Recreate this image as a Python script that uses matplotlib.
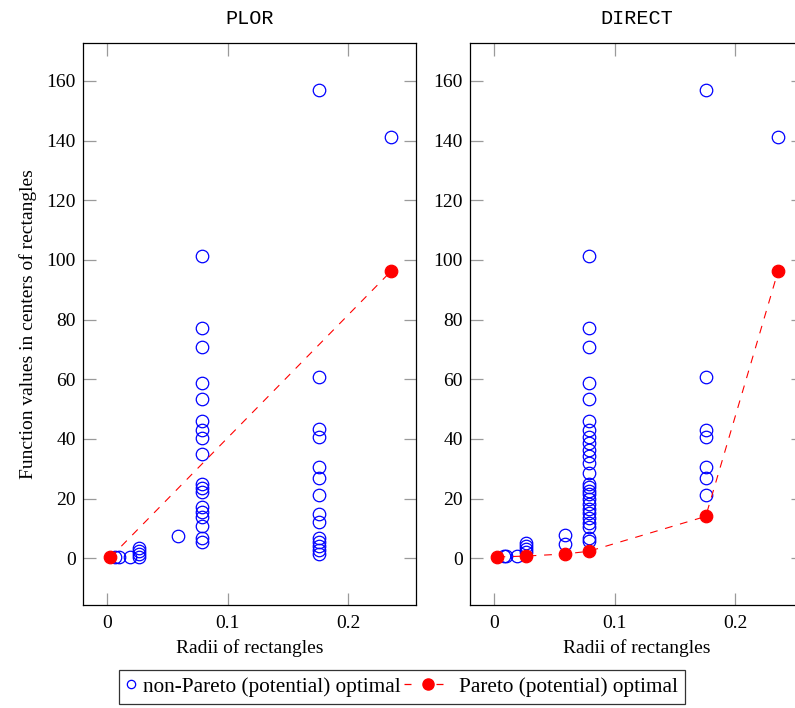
import matplotlib
matplotlib.use("Agg")
import matplotlib.pyplot as plt
from matplotlib.lines import Line2D
from matplotlib.legend_handler import HandlerLine2D

plt.rcParams['font.family'] = ['Liberation Serif', 'DejaVu Serif']

# Rectangle radii (half-diagonals) appearing in the two partitions
R1, R2, R3, R4 = 0.2357, 0.1757, 0.0786, 0.0586
R5, R6, R7, R8, R9 = 0.0262, 0.0195, 0.0098, 0.0067, 0.0029

# PLOR: non-Pareto points
plor_x = ([R8, R7, R6] + [R5] * 4 + [R4] + [R3] * 18 + [R2] * 14 + [R1])
plor_y = ([0.4, 0.5, 0.5]
          + [0.4, 1.3, 2.3, 3.3]
          + [7.4]
          + [101.2, 77.0, 70.9, 58.8, 53.2, 46.0, 42.9, 40.2, 35.0,
             24.8, 23.4, 22.1, 17.1, 15.4, 13.7, 10.7, 6.7, 5.4]
          + [157.0, 60.8, 43.2, 40.7, 30.7, 27.0, 21.1, 14.7, 12.2,
             6.9, 5.5, 4.1, 2.8, 1.3]
          + [141.2])
# PLOR: Pareto points
plor_px = [R9, R1]
plor_py = [0.3, 96.2]

# DIRECT: non-Pareto points
direct_x = ([0.0087, R7, R6] + [R5] * 4 + [R4] * 2 + [R3] * 26 + [R2] * 7 + [R1])
direct_y = ([0.6, 0.6, 0.6]
            + [1.9, 3.0, 4.1, 5.2]
            + [4.9, 7.9]
            + [101.2, 77.0, 70.9, 58.8, 53.2, 46.0, 43.0, 40.7, 38.6, 36.4,
               34.2, 32.0, 28.7, 24.8, 23.7, 22.5, 21.4, 19.7, 18.1, 16.6,
               15.3, 13.6, 11.9, 10.6, 6.9, 5.8]
            + [157.0, 60.8, 43.0, 40.7, 30.7, 27.0, 21.1]
            + [141.2])
# DIRECT: Pareto points
direct_px = [R9, R5, R4, R3, R2, R1]
direct_py = [0.4, 0.7, 1.4, 2.3, 14.0, 96.2]

titles = ["PLOR", "DIRECT"]
xticks = [0, 0.1, 0.2]
xtick_labels = ["0", "0.1", "0.2"]
yticks = [0, 20, 40, 60, 80, 100, 120, 140, 160]
legend_labels = ["non-Pareto (potential) optimal", "Pareto (potential) optimal"]

FS = 14
LEG_FS = 15.3

W, H = 795, 708
fig = plt.figure(figsize=(W / 100, H / 100), dpi=100)

ax_w = 333 / W
ax_h = 562 / H
ax_b = 1 - 605 / H
axes = [fig.add_axes([83 / W, ax_b, ax_w, ax_h]),
        fig.add_axes([470 / W, ax_b, ax_w, ax_h])]

blue = (0, 0, 1)
red = (1, 0, 0)
dash = (0, (7, 7))

data = [(plor_x, plor_y, plor_px, plor_py),
        (direct_x, direct_y, direct_px, direct_py)]

for ax, title, (nx, ny, px, py) in zip(axes, titles, data):
    ax.plot(nx, ny, linestyle='none', marker='o', markersize=9,
            markerfacecolor='none', markeredgecolor=blue, markeredgewidth=0.9)
    ax.plot(px, py, linestyle=dash, color=red, linewidth=0.8,
            marker='o', markersize=9, markerfacecolor=red,
            markeredgecolor=red, markeredgewidth=0.9, zorder=3)
    ax.set_xlim(-0.0199, 0.2564)
    ax.set_ylim(-15.7, 172.7)
    ax.set_xticks(xticks)
    ax.set_xticklabels(xtick_labels)
    ax.set_yticks(yticks)
    ax.tick_params(direction='in', length=9, width=0.9, color='#9a9a9a',
                   labelsize=FS, top=True, right=True)
    ax.tick_params(axis='y', pad=5)
    ax.tick_params(axis='x', pad=7)
    for s in ax.spines.values():
        s.set_linewidth(0.9)
        s.set_color('black')
    ax.set_title(title, family='Liberation Mono', fontsize=14.5, pad=14)
    ax.set_xlabel("Radii of rectangles", fontsize=FS, labelpad=5)

axes[0].set_ylabel("Function values in centers of rectangles", fontsize=FS,
                   labelpad=7)


class SizedHandler(HandlerLine2D):
    """Line2D legend handler with its own handle width (in font sizes)."""

    def __init__(self, width, **kw):
        super().__init__(**kw)
        self._w = width

    def legend_artist(self, legend, orig_handle, fontsize, handlebox):
        handlebox.width = self._w * fontsize
        return super().legend_artist(legend, orig_handle, fontsize, handlebox)


h_open = Line2D([], [], linestyle='none', marker='o', markersize=6,
                markerfacecolor='none', markeredgecolor=blue,
                markeredgewidth=0.9)
h_pareto = Line2D([], [], linestyle=(0, (5.6, 20)), color=red, linewidth=0.9,
                  marker='o', markersize=8, markerfacecolor=red,
                  markeredgecolor=red)

leg = fig.legend([h_open, h_pareto], legend_labels, loc='upper left',
                 ncol=2, numpoints=1,
                 bbox_to_anchor=(119 / W, 1 - 670 / H),
                 fontsize=LEG_FS, frameon=True, fancybox=False,
                 edgecolor='black', handletextpad=0.3,
                 columnspacing=0.15, borderpad=0.33, borderaxespad=0,
                 handler_map={h_open: SizedHandler(0.5),
                              h_pareto: SizedHandler(2.3)})
leg.get_frame().set_linewidth(0.9)

fig.savefig("out.png", dpi=100)
